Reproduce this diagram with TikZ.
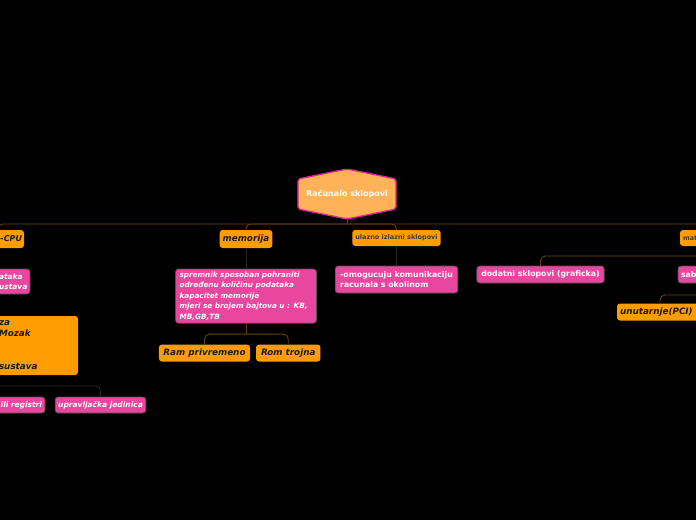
\documentclass[tikz,border=0pt]{standalone}
\usepackage{fontspec}
\setmainfont{DejaVu Sans}
\usetikzlibrary{calc, positioning}

\begin{document}
\begin{tikzpicture}[
  x=1pt, y=-1pt,
  % ---- styles ----
  orangebox/.style={%
    fill=Co, rounded corners=3pt, inner sep=3pt, outer sep=0pt,
    text=Ct, font=\fontsize{8.8}{11}\selectfont\bfseries\itshape,
    minimum height=17pt,
  },
  smallbox/.style={%
    fill=Co, rounded corners=3pt, inner sep=3pt, outer sep=0pt,
    text=Cg, font=\fontsize{6.5}{8}\selectfont\bfseries,
    minimum height=16pt,
  },
  pinkbox/.style={%
    fill=Cp, draw=Cb, line width=0.8pt, rounded corners=3pt,
    inner sep=3pt, outer sep=0pt, text=white,
    font=\fontsize{7.8}{10}\selectfont\bfseries, minimum height=17pt,
  },
  pinkital/.style={%
    pinkbox, font=\fontsize{7.5}{10.5}\selectfont\bfseries\itshape,
  },
  brline/.style={draw=Cbr, line width=0.9pt, rounded corners=5pt},
  dkline/.style={draw=Cdk, line width=0.9pt, rounded corners=5pt},
]

% ---- colour palette ----
\definecolor{Co}{HTML}{FF9D00}     % orange topics
\definecolor{Cp}{HTML}{E8469F}     % pink notes
\definecolor{Cr}{HTML}{FFB257}     % root fill
\definecolor{Cm}{HTML}{E0249A}     % root border
\definecolor{Ct}{HTML}{1A1A1A}     % dark text
\definecolor{Cg}{HTML}{3C3C3C}     % grey text
\definecolor{Cb}{HTML}{505050}     % pink border
\definecolor{Cbr}{RGB}{104,66,10}  % brown connectors
\definecolor{Cdk}{RGB}{38,38,38}   % dark connectors

\useasboundingbox (0,0) rectangle (696,520);
\fill[black] (0,0) rectangle (696,520);

% =========================================================
% root
% =========================================================
\coordinate (rootc) at (347,194);
\filldraw[fill=Cr, draw=Cm, line width=1.3pt, rounded corners=2pt]
  ($(rootc)+(0,-25)$) -- ($(rootc)+(49,-15)$) -- ($(rootc)+(49,15)$)
  -- ($(rootc)+(0,25)$) -- ($(rootc)+(-49,15)$) -- ($(rootc)+(-49,-15)$) -- cycle;
\node[text=white, font=\fontsize{8}{10}\selectfont\bfseries,
      minimum height=50pt, inner sep=0pt, outer sep=0pt] (root) at (rootc)
    {Računalo sklopovi};

% =========================================================
% left branch (CPU)
% =========================================================
\node[orangebox, font=\fontsize{8}{10}\selectfont\bfseries\itshape, inner xsep=2pt,
      text width=48pt, align=right, anchor=east, minimum height=18pt]
    (cpu) at (24,239) {-CPU};
\node[pinkital, text width=28pt, align=left, anchor=east, minimum height=25pt]
    (podaci) at (30,281.5) {ataka\\ustava};
\node[orangebox, text width=76pt, align=left, anchor=north east, minimum height=59pt]
    (mozak) at (78,316) {za\\Mozak\\[22pt]sustava};
\node[pinkital, text width=100pt, align=right, anchor=east, minimum height=16pt]
    (registri) at (45,405) {ili registri};
\node[pinkital, minimum height=16pt] (upravljacka) at (100.5,405) {upravljačka jedinica};

% =========================================================
% memorija
% =========================================================
\node[orangebox, minimum height=18pt] (memorija) at (246,239) {memorija};
\node[pinkital, font=\fontsize{7.3}{10.4}\selectfont\bfseries\itshape,
      align=left, text width=133pt, inner xsep=4pt, below=21pt of memorija]
    (spremnik) {spremnik sposoban pohraniti\\određenu količinu podataka\\kapacitet memorije\\mjeri se brojem bajtova u : KB,\\MB,GB,TB};
\node[orangebox, inner xsep=4.5pt] (ram) at (204.5,353) {Ram privremeno};
\node[orangebox, inner xsep=5pt, right=6pt of ram] (rom) {Rom trojna};

% =========================================================
% ulazno izlazni sklopovi
% =========================================================
\node[smallbox] (ulazno) at (396.5,238) {ulazno izlazni sklopovi};
\node[pinkbox, align=left, inner xsep=5pt, minimum height=27pt, below=20pt of ulazno]
    (omogucuju) {-omogucuju komunikaciju\\racunala s okolinom};

% =========================================================
% right branch
% =========================================================
\node[smallbox, text width=48pt, align=left, anchor=west] (maticna) at (680,238) {mat};
\node[pinkbox, inner xsep=4.5pt] (dodatni) at (540.5,274.5) {dodatni sklopovi (graficka)};
\node[pinkbox, text width=48pt, align=left, anchor=west] (sabirnice) at (678,274.5) {sab};
\node[orangebox, text width=80pt, align=left, anchor=west] (unutarnje) at (617,312) {unutarnje(PCI)};

% =========================================================
% connectors
% =========================================================
\coordinate (hub) at ($(root.south)+(0,5)$);
\draw[brline] (root.south) -- (hub);
\draw[brline] (hub) -| (cpu.north);
\draw[brline] (hub) -| (memorija.north);
\draw[brline] (hub) -| (ulazno.north);
\draw[brline] (hub) -| (maticna.north);

\draw[dkline] (memorija.south) -- (spremnik.north);
\coordinate (memhub) at ($(spremnik.south)+(0,11)$);
\draw[brline] (spremnik.south) -- (memhub);
\draw[brline] (memhub) -| (ram.north);
\draw[brline] (memhub) -| (rom.north);

\draw[dkline] (ulazno.south) -- (omogucuju.north);

\coordinate (mathub) at ($(maticna.south)+(0,10)$);
\draw[brline] (maticna.south) -- (mathub);
\draw[brline] (mathub) -| (dodatni.north);
\draw[brline] (mathub) -| (sabirnice.north);

\coordinate (sabhub) at ($(sabirnice.south)+(0,12)$);
\draw[brline] (sabirnice.south) -- (sabhub);
\draw[brline] (sabhub) -| (unutarnje.north);

\coordinate (mozakhub) at (-10,386);
\draw[dkline] (mozakhub) -| (upravljacka.north);
\draw[dkline] (mozakhub) -| (registri.north);

\end{tikzpicture}
\end{document}
